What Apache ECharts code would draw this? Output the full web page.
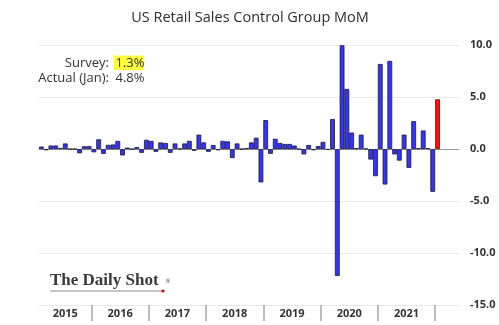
<!DOCTYPE html>
<html>
<head>
<meta charset="utf-8">
<script src="https://cdn.jsdelivr.net/npm/echarts/dist/echarts.min.js"></script>
<style>
  html, body { margin: 0; padding: 0; background: #fff; }
  #chart { width: 499px; height: 325px; }
</style>
</head>
<body>
<div id="chart"></div>
<script>
// US retail sales, control group, month-over-month % change
// First bar is Feb 2015; last print is Jan 2022.
const firstYear = 2015;
const firstMonth = 2;

const mom2015 = [0.25, -0.1, 0.35, 0.35, 0.1, 0.55, 0.02, 0.02, -0.4, 0.28, 0.3];
const mom2016 = [-0.3, 0.95, -0.45, 0.42, 0.45, 0.8, -0.6, 0.15, 0.02, 0.2, -0.35, 0.9];
const mom2017 = [0.8, -0.25, 0.65, 0.6, -0.35, 0.55, 0.05, 0.55, 0.8, -0.15, 1.4, 0.65];
const mom2018 = [-0.25, 0.4, -0.1, 0.8, 0.75, -0.85, 0.55, 0.02, 0.1, 0.65, 1.1, -3.2];
const mom2019 = [2.8, -0.45, 1.0, 0.6, 0.5, 0.5, 0.35, 0.02, -0.5, 0.4, -0.1, 0.3];
const mom2020 = [0.7, -0.05, 2.9, -12.2, 10.0, 5.8, 1.6, 0.1, 1.4, 0.05, -1.0, -2.6];
const mom2021 = [8.2, -3.4, 8.5, -0.5, -1.1, 1.4, -1.8, 2.7, 0.1, 1.8, 0.1, -4.1];
const mom2022 = [4.8];

const blankMonthsAfter = 4;          // empty room to the right of the latest bar
const yearLabels = ['2015', '2016', '2017', '2018', '2019', '2020', '2021'];

const surveyText = 'Survey:';
const surveyValue = 1.3;
const actualText = 'Actual (Jan):';
const actualValue = 4.8;

const titleText = 'US Retail Sales Control Group MoM';

// ---- build the monthly category list and the bar data ----
const history = [].concat(mom2015, mom2016, mom2017, mom2018, mom2019, mom2020, mom2021);
const months = [];
const barData = [];
let y = firstYear, m = firstMonth;
function pushMonth(val) {
  months.push(y + '-' + String(m).padStart(2, '0'));
  barData.push(val);
  m++; if (m > 12) { m = 1; y++; }
}
history.forEach(v => pushMonth(v));
mom2022.forEach((v, i) => pushMonth(
  i === mom2022.length - 1 ? { value: actualValue, itemStyle: { color: '#ff1010', borderColor: '#5a1010' } } : v
));
for (let i = 0; i < blankMonthsAfter; i++) pushMonth('-');

// ---- year axis: half-month points so ticks sit on month boundaries ----
const nMonths = months.length;
const halfPoints = [];
for (let i = 0; i <= nMonths * 2; i++) halfPoints.push('');
const tickIdx = new Set();
const leadMonths = 13 - firstMonth;            // months shown in the first year
yearLabels.forEach((lab, k) => {
  let centerMonth;
  if (k === 0) centerMonth = leadMonths / 2;
  else centerMonth = leadMonths + 12 * (k - 1) + 6;
  halfPoints[Math.round(centerMonth * 2)] = lab;
  tickIdx.add((leadMonths + 12 * k) * 2);
});

const chart = echarts.init(document.getElementById('chart'), null, { renderer: 'canvas' });
const font = 'Open Sans';

chart.setOption({
  backgroundColor: '#ffffff',
  animation: false,
  title: {
    text: titleText,
    left: 245,
    textAlign: 'center',
    top: 5,
    textStyle: { fontFamily: font, fontSize: 14.5, fontWeight: 'normal', color: '#2e2e2e' }
  },
  grid: { left: 39, right: 40, top: 45.3, bottom: 20, containLabel: false },
  xAxis: [
    {
      type: 'category',
      data: months,
      boundaryGap: true,
      axisLine: { show: true, onZero: true, lineStyle: { color: '#9a9a9a', width: 1 } },
      axisTick: { show: false },
      axisLabel: { show: false },
      splitLine: { show: false }
    },
    {
      type: 'category',
      data: halfPoints,
      boundaryGap: false,
      position: 'bottom',
      axisLine: { show: false, onZero: false },
      axisTick: {
        show: true,
        length: 16,
        interval: (i) => tickIdx.has(i),
        lineStyle: { color: '#a8a8a8', width: 1.5 }
      },
      axisLabel: {
        show: true,
        interval: 0,
        margin: 3,
        fontFamily: font,
        fontSize: 11,
        fontWeight: 'bold',
        color: '#333'
      },
      splitLine: { show: false }
    }
  ],
  yAxis: {
    type: 'value',
    position: 'right',
    min: -15,
    max: 10,
    interval: 5,
    axisLine: { show: false },
    axisTick: { show: false },
    axisLabel: {
      margin: 11,
      formatter: (v) => v.toFixed(1),
      fontFamily: font,
      fontSize: 11,
      fontWeight: 'bold',
      color: '#333'
    },
    splitLine: { show: true, lineStyle: { color: '#e8e8e8', width: 1 } }
  },
  series: [{
    type: 'bar',
    data: barData,
    xAxisIndex: 0,
    yAxisIndex: 0,
    barCategoryGap: '0%',
    itemStyle: { color: '#3535f5', borderColor: '#18183f', borderWidth: 0.8 }
  }],
  graphic: [
    // survey / actual box
    { type: 'rect', shape: { x: 113.5, y: 55.5, width: 30.5, height: 14.5 }, style: { fill: '#ffff3a' }, silent: true },
    { type: 'text', style: { text: surveyText, x: 109, y: 63, textAlign: 'right', textVerticalAlign: 'middle', font: '13px "Open Sans"', fill: '#333' } },
    { type: 'text', style: { text: surveyValue.toFixed(1) + '%', x: 115.5, y: 63, textAlign: 'left', textVerticalAlign: 'middle', font: '13px "Open Sans"', fill: '#333' } },
    { type: 'text', style: { text: actualText, x: 109, y: 78.5, textAlign: 'right', textVerticalAlign: 'middle', font: '13px "Open Sans"', fill: '#333' } },
    { type: 'text', style: { text: actualValue.toFixed(1) + '%', x: 115.5, y: 78.5, textAlign: 'left', textVerticalAlign: 'middle', font: '13px "Open Sans"', fill: '#333' } },
    // masthead
    { type: 'text', style: { text: 'The Daily Shot', x: 50, y: 289.5, textAlign: 'left', textVerticalAlign: 'bottom', font: 'bold 17px "Liberation Serif"', fill: '#3a3a3a' } },
    { type: 'line', shape: { x1: 50, y1: 291, x2: 162, y2: 291 }, style: { stroke: '#8a8a8a', lineWidth: 1 } },
    { type: 'circle', shape: { cx: 163, cy: 291, r: 1.6 }, style: { fill: '#e00000' } },
    { type: 'text', style: { text: '®', x: 165, y: 281, textAlign: 'left', textVerticalAlign: 'middle', font: '6px "DejaVu Sans"', fill: '#555' } }
  ]
});
</script>
</body>
</html>
